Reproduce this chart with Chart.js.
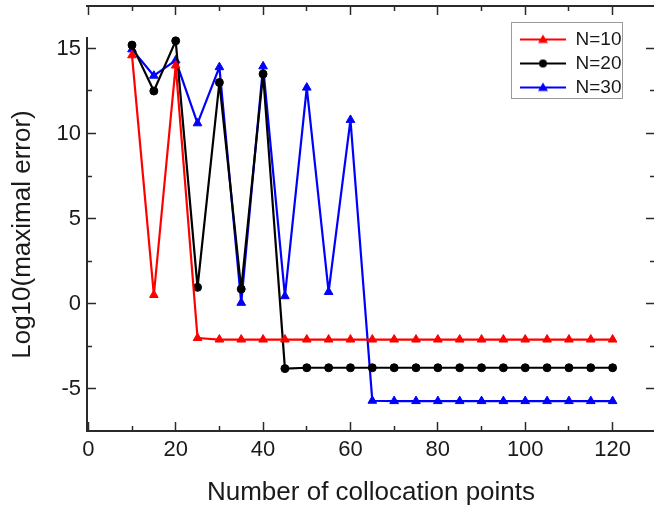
<!DOCTYPE html>
<html>
<head>
<meta charset="utf-8">
<script src="https://cdn.jsdelivr.net/npm/chart.js@4/dist/chart.umd.min.js"></script>
<style>
  html, body { margin: 0; padding: 0; background: #fff; overflow: hidden; width: 654px; height: 510px; }
  canvas { display: block; }
</style>
</head>
<body>
<canvas id="c" width="662" height="510"></canvas>
<script>
// ---- data ----
const xPoints = [10, 15, 20, 25, 30, 35, 40, 45, 50, 55, 60, 65, 70, 75, 80, 85, 90, 95, 100, 105, 110, 115, 120];
const seriesN10 = [14.6, 0.5, 14.0, -2.03, -2.12, -2.12, -2.12, -2.12, -2.12, -2.12, -2.12, -2.12, -2.12, -2.12, -2.12, -2.12, -2.12, -2.12, -2.12, -2.12, -2.12, -2.12, -2.12];
const seriesN20 = [15.2, 12.5, 15.45, 0.95, 13.0, 0.85, 13.5, -3.83, -3.78, -3.78, -3.78, -3.78, -3.78, -3.78, -3.78, -3.78, -3.78, -3.78, -3.78, -3.78, -3.78, -3.78, -3.78];
const seriesN30 = [14.95, 13.4, 14.3, 10.6, 13.9, 0.04, 13.95, 0.43, 12.7, 0.68, 10.8, -5.72, -5.74, -5.74, -5.74, -5.74, -5.74, -5.74, -5.74, -5.74, -5.74, -5.74, -5.74];
const seriesLabels = ['N=10', 'N=20', 'N=30'];
const xMajorTicks = [0, 20, 40, 60, 80, 100, 120];
const xMinorTicks = [10, 30, 50, 70, 90, 110];
const yMajorTicks = [-5, 0, 5, 10, 15];
const yMinorTicks = [-2.5, 2.5, 7.5, 12.5];
const xTitle = 'Number of collocation points';
const yTitle = 'Log10(maximal error)';

// ---- style ----
const FONT = "'Liberation Sans', Arial, sans-serif";
const TXT = '#1a1a1a';
const FRAME = '#2a2a2a';
const X_MIN = -0.3, X_MAX = 129.7, Y_MIN = -7.5, Y_MAX = 17.5;

function pts(vals) { return xPoints.map((x, i) => ({ x: x, y: vals[i] })); }

function legendIcon(color, style) {
  const cv = document.createElement('canvas');
  cv.width = 46; cv.height = 14;
  const g = cv.getContext('2d');
  g.strokeStyle = color; g.fillStyle = color; g.lineWidth = 2;
  g.beginPath(); g.moveTo(0, 7); g.lineTo(46, 7); g.stroke();
  g.beginPath();
  if (style === 'circle') { g.arc(23, 7, 4, 0, Math.PI * 2); }
  else { g.moveTo(23, 2); g.lineTo(28, 10.5); g.lineTo(18, 10.5); g.closePath(); }
  g.fill();
  return cv;
}

const mkTicks = arr => (s => { s.ticks = arr.map(v => ({ value: v })); });

function axisBase(axis, position, min, max, ticksArr, tickLen, extra) {
  return Object.assign({
    type: 'linear', axis: axis, position: position, min: min, max: max,
    afterBuildTicks: mkTicks(ticksArr),
    ticks: { display: false },
    grid: { drawOnChartArea: false, drawTicks: true, tickLength: tickLen, tickColor: FRAME, tickWidth: 1.5 },
    border: { display: false }
  }, extra || {});
}

const datasets = [
  { label: seriesLabels[0], data: pts(seriesN10), color: '#ff0000', style: 'triangle', r: 5 },
  { label: seriesLabels[1], data: pts(seriesN20), color: '#000000', style: 'circle', r: 4 },
  { label: seriesLabels[2], data: pts(seriesN30), color: '#0000ff', style: 'triangle', r: 5 }
].map(d => ({
  label: d.label, data: d.data, xAxisID: 'x', yAxisID: 'y',
  borderColor: d.color, backgroundColor: d.color, borderWidth: 2.2, borderJoinStyle: 'round',
  pointStyle: d.style, pointRadius: d.r, pointBorderWidth: 1, pointBackgroundColor: d.color, pointBorderColor: d.color,
  tension: 0, fill: false, clip: false, _icon: legendIcon(d.color, d.style)
}));

let savedTop = null;
const layoutTweaks = {
  id: 'layoutTweaks',
  afterLayout(chart) {
    const l = chart.legend;
    if (l) { l.left = 515; l.top = 25; }
  },
  beforeDraw(chart) {
    // shift only the y-axis title centre slightly downward, as in the reference
    const ys = chart.scales.y;
    savedTop = ys.top;
    ys.top = chart.chartArea.top + 32;
  },
  beforeDatasetsDraw(chart) {
    if (savedTop !== null) { chart.scales.y.top = savedTop; savedTop = null; }
  },
  afterDraw(chart) {
    const ctx = chart.ctx;
    ctx.save();
    ctx.strokeStyle = '#9a9a9a'; ctx.lineWidth = 1;
    ctx.strokeRect(511.5, 22.5, 111, 76);
    ctx.restore();
  }
};

new Chart(document.getElementById('c'), {
  type: 'line',
  data: { datasets: datasets },
  plugins: [layoutTweaks],
  options: {
    responsive: false, animation: false, devicePixelRatio: 1,
    layout: { padding: { left: 0, top: 5, right: 7, bottom: 0 } },
    plugins: {
      tooltip: { enabled: false },
      legend: {
        position: 'chartArea', align: 'start',
        labels: {
          usePointStyle: true, pointStyleWidth: 46, padding: 5,
          font: { family: FONT, size: 19 }, color: TXT,
          generateLabels: chart => chart.data.datasets.map((ds, i) => ({
            text: ds.label, pointStyle: ds._icon, datasetIndex: i, hidden: false,
            fillStyle: ds.borderColor, strokeStyle: ds.borderColor, lineWidth: 0, fontColor: TXT
          }))
        }
      }
    },
    scales: {
      x: {
        type: 'linear', axis: 'x', position: 'bottom', min: X_MIN, max: X_MAX, weight: 1,
        afterBuildTicks: mkTicks(xMajorTicks),
        ticks: { autoSkip: false, maxRotation: 0, padding: 15, color: TXT, font: { family: FONT, size: 22 }, callback: v => String(v) },
        grid: { drawOnChartArea: false, drawTicks: true, tickLength: -9, tickColor: FRAME, tickWidth: 1.5 },
        border: { display: true, color: FRAME, width: 2 },
        title: { display: true, text: xTitle, color: TXT, font: { family: FONT, size: 26 }, padding: { top: 0, bottom: 2 } },
        afterFit: s => { s.height = 79; s.paddingLeft = 0; s.paddingRight = 0; }
      },
      xMinor: axisBase('x', 'bottom', X_MIN, X_MAX, xMinorTicks, -5, { weight: 0, afterFit: s => { s.height = 0; s.paddingLeft = 0; s.paddingRight = 0; } }),
      xTop: axisBase('x', 'top', X_MIN, X_MAX, xMajorTicks, -9, { weight: 0, border: { display: true, color: FRAME, width: 2 }, afterFit: s => { s.height = 0; s.paddingLeft = 0; s.paddingRight = 0; } }),
      xTopMinor: axisBase('x', 'top', X_MIN, X_MAX, xMinorTicks, -5, { weight: 0, afterFit: s => { s.height = 0; s.paddingLeft = 0; s.paddingRight = 0; } }),
      y: {
        type: 'linear', axis: 'y', position: 'left', min: Y_MIN, max: Y_MAX, weight: 1,
        afterBuildTicks: mkTicks(yMajorTicks),
        ticks: { autoSkip: false, padding: 15, color: TXT, font: { family: FONT, size: 22 }, callback: v => String(v) },
        grid: { drawOnChartArea: false, drawTicks: true, tickLength: -9, tickColor: FRAME, tickWidth: 1.5 },
        border: { display: true, color: FRAME, width: 2 },
        title: { display: true, text: yTitle, color: TXT, font: { family: FONT, size: 26 }, padding: { top: 7, bottom: 0 } },
        afterFit: s => { s.width = 87; s.paddingTop = 0; s.paddingBottom = 0; }
      },
      yMinor: axisBase('y', 'left', Y_MIN, Y_MAX, yMinorTicks, -5, { weight: 0, afterFit: s => { s.width = 0; s.paddingTop = 0; s.paddingBottom = 0; } }),
      yRight: axisBase('y', 'right', Y_MIN, Y_MAX, yMajorTicks, -9, { weight: 0, border: { display: true, color: FRAME, width: 2 }, afterFit: s => { s.width = 0; s.paddingTop = 0; s.paddingBottom = 0; } }),
      yRightMinor: axisBase('y', 'right', Y_MIN, Y_MAX, yMinorTicks, -5, { weight: 0, afterFit: s => { s.width = 0; s.paddingTop = 0; s.paddingBottom = 0; } })
    }
  }
});
</script>
</body>
</html>
